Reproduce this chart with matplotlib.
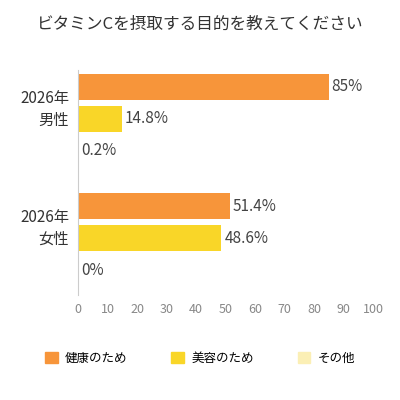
import matplotlib
matplotlib.use("Agg")
import matplotlib.pyplot as plt
from matplotlib.patches import Patch

plt.rcParams['font.family'] = ['Noto Sans CJK JP', 'DejaVu Sans']

groups = ["2026年\n男性", "2026年\n女性"]
series = ["健康のため", "美容のため", "その他"]
values = [[85, 14.8, 0.2], [51.4, 48.6, 0]]
labels = [["85%", "14.8%", "0.2%"], ["51.4%", "48.6%", "0%"]]
colors = ["#F7953A", "#F9D628", "#FBEFB5"]

fig = plt.figure(figsize=(4, 4), dpi=100)
ax = fig.add_axes([0.195, 0.2625, 0.7375, 0.5625])
group_y = [0, 3.72]
for g, base in enumerate(group_y):
    for s in range(3):
        y = base + s
        ax.barh(y, values[g][s], height=0.8, color=colors[s])
        ax.text(values[g][s] + 1, y, labels[g][s], va='center', ha='left',
                fontsize=11, color='#444444')
    ax.text(-3, base + 0.7, groups[g], ha='right', va='center', fontsize=11,
            color='#333333', linespacing=1.4)
ax.set_xlim(0, 100)
ax.set_ylim(6.5, -0.53)
ax.set_yticks([])
ax.set_xticks(range(0, 101, 10))
ax.tick_params(axis='x', length=0, labelsize=9, labelcolor='#888888', pad=6)
for sp in ['top', 'right', 'bottom']:
    ax.spines[sp].set_visible(False)
ax.spines['left'].set_color('#cccccc')

fig.text(0.5, 0.94, "ビタミンCを摂取する目的を教えてください", ha='center', va='center',
         fontsize=12, color='#333333')
handles = [Patch(color=c) for c in colors]
fig.legend(handles, series, loc='center', bbox_to_anchor=(0.5, 0.105), ncol=3,
           frameon=False, fontsize=9, handlelength=1.0, handleheight=1.0,
           columnspacing=3.5, handletextpad=0.6)
fig.savefig("out.png", dpi=100)
